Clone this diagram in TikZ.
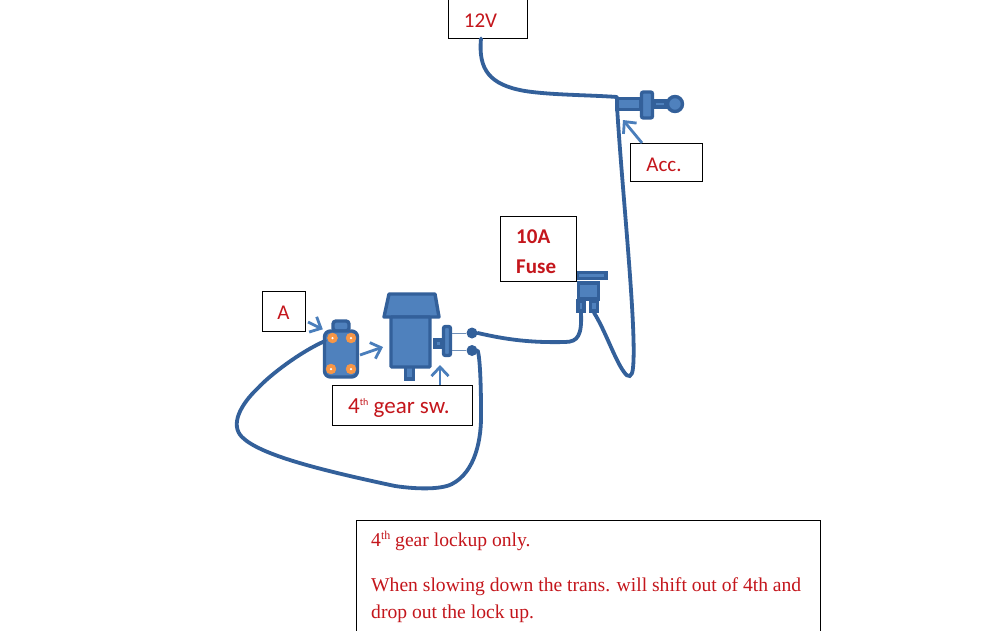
\documentclass[tikz,border=0pt]{standalone}
\usepackage{fontspec}
\setmainfont{Carlito}
\newfontfamily\serifnote{Liberation Serif}
\usetikzlibrary{arrows.meta}
\definecolor{partfill}{HTML}{4F81BD}
\definecolor{partline}{HTML}{33609A}
\definecolor{wirecol}{HTML}{33609A}
\definecolor{arrowcol}{HTML}{4A7EBB}
\definecolor{textred}{HTML}{C4161C}
\definecolor{pinorange}{HTML}{F79646}
\tikzset{
  x=1pt,y=-1pt,
  labelbox/.style={draw=black,line width=0.9pt,fill=white,minimum width=20pt},
  labeltext/.style={text=textred,font=\fontsize{21}{25}\selectfont,inner sep=0pt},
  part/.style={draw=partline,fill=partfill,line width=3.4pt},
  wire/.style={draw=wirecol,line width=3.8pt,line cap=round},
  thinwire/.style={draw=partline!70,line width=0.9pt},
  pointer/.style={draw=arrowcol,line width=2.8pt,-{Straight Barb[length=9pt,width=17pt,line width=2.8pt]}},
  pin/.style={circle,fill=pinorange,draw=pinorange,minimum size=10pt,inner sep=0pt},
  pinhole/.style={circle,fill=white,minimum size=2.5pt,inner sep=0pt},
  terminal/.style={circle,fill=partline,minimum size=11pt,inner sep=0pt},
}
\begin{document}
\begin{tikzpicture}
\useasboundingbox (0,0) rectangle (1006,630);
\fill[white] (0,0) rectangle (1006,630);

\coordinate (acctee) at (617,97);
\coordinate (accdrop) at (617,106);
\coordinate (connwire) at (325,341);
\coordinate (v12wire) at (481,38.5);

% connector A
\draw[part,rounded corners=3pt] (333,321) rectangle (349,331);
\node[part,rounded corners=6pt,minimum width=33pt,minimum height=46pt,inner sep=0pt] (conn) at (341,354) {};
\foreach \n/\px/\py in {p1/332.5/338,p2/351/338,p3/331/369,p4/351/369}{
  \node[pin] (\n) at (\px,\py) {};
  \node[pinhole] at (\px,\py) {};
}

% gear switch
\draw[part,line join=round] (413,294) -- (435,294) -- (439,317) -- (384,317) -- (389,294) -- cycle;
\draw[part] (405.5,362) rectangle (413.5,379);
\node[part,rounded corners=1pt,minimum width=39pt,minimum height=50pt,inner sep=0pt] (sw) at (410.5,342) {};
\draw[part] (435,340) rectangle (442,347);
\node[part,rounded corners=2pt,minimum width=7pt,minimum height=29pt,inner sep=0pt] (swbar) at (447,341) {};
\node[terminal] (t1) at (472,333) {};
\node[terminal] (t2) at (472,350.5) {};
\draw[thinwire] (swbar.east |- t1) -- (t1);
\draw[thinwire] (swbar.east |- t2) -- (t2);

% fuse
\node[part,minimum width=29pt,minimum height=6pt,inner sep=0pt] (fusetop) at (591.5,275.5) {};
\node[part,minimum width=20pt,minimum height=16pt,inner sep=0pt] (fusebody) at (588.5,291) {};
\node[part,minimum width=6pt,minimum height=10pt,inner sep=0pt] (leg1) at (581,306) {};
\node[part,minimum width=7pt,minimum height=10pt,inner sep=0pt] (leg2) at (594,306) {};

% accessory switch
\node[part,minimum width=24pt,minimum height=11pt,inner sep=0pt] (acc) at (629,104) {};
\draw[part] (654,101) rectangle (666,107);
\node[part,rounded corners=2pt,minimum width=11pt,minimum height=26pt,inner sep=0pt] (accbar) at (647,105) {};
\node[part,circle,minimum size=15pt,inner sep=0pt] (knob) at (675,104) {};

% label boxes
\node[labelbox,minimum width=79pt,minimum height=39pt,inner sep=0pt] (v12) at (487.5,18.5) {};
\node[labeltext] (v12text) at (480.5,21) {12V};
\node[labelbox,minimum width=43pt,minimum height=40pt,inner sep=0pt] (a) at (283.5,311) {};
\node[labeltext] (atext) at (283.5,312.5) {A};
\node[labelbox,minimum width=140pt,minimum height=40pt,inner sep=0pt] (gear) at (402,405) {};
\node[labeltext,font=\fontsize{23}{27}\selectfont,anchor=west] (geartext) at (348,407.5) {4\raisebox{8pt}{\fontsize{10}{10}\selectfont th} gear sw.};
\node[labelbox,minimum width=72pt,minimum height=38pt,inner sep=0pt] (acclabel) at (666,162) {};
\node[labeltext,font=\fontsize{21}{25}\selectfont] (acctext) at (664,165) {Acc.};
\node[labelbox,minimum width=76pt,minimum height=65pt,inner sep=0pt] (fuse) at (538,248.5) {};
\node[labeltext,font=\fontsize{21}{25}\selectfont\bfseries,anchor=west] (fuseone) at (516,237) {10A};
\node[labeltext,font=\fontsize{21}{25}\selectfont\bfseries,anchor=west] (fusetwo) at (516,267) {Fuse};

% wires
\draw[wire] (t1.east) .. controls (500,338) and (525,343) .. (565,342)
  .. controls (578,342) and (582,335) .. (leg1.south);
\draw[wire] (leg2.south) .. controls (605,330) and (615,360) .. (624,372)
  .. controls (628,378) and (632,378) .. (633,368)
  .. controls (637,330) and (622,190) .. (accdrop);
\draw[wire] (v12wire) .. controls (478,70) and (490,85) .. (525,91)
  .. controls (550,95) and (590,95) .. (acctee);
\draw[wire] (connwire) .. controls (300,352) and (270,375) .. (258,388)
  .. controls (240,405) and (230,425) .. (242,437)
  .. controls (260,455) and (320,470) .. (395,486)
  .. controls (415,489) and (440,490) .. (452,484)
  .. controls (475,472) and (482,440) .. (481,410)
  .. controls (481,385) and (480,358) .. (t2.east);

% pointers
\draw[pointer] (308,322) -- (conn.north west);
\draw[pointer] (360,355) -- (383,347);
\draw[pointer] (440,385) -- (440,365);
\draw[pointer] (642,143) -- (623,120);

% note
\node[draw=black,line width=0.9pt,fill=white,minimum width=464pt,minimum height=112pt,inner sep=0pt] (note) at (588,576) {};
\node[text=textred,font=\serifnote\fontsize{19.6}{27}\selectfont,anchor=north west,align=left,inner sep=0pt] (notetext) at (371,531)
  {4\raisebox{7pt}{\fontsize{12}{12}\selectfont th} gear lockup only.\\[18pt]
   When slowing down the trans. will shift out of 4th and\\drop out the lock up.};
\end{tikzpicture}
\end{document}
